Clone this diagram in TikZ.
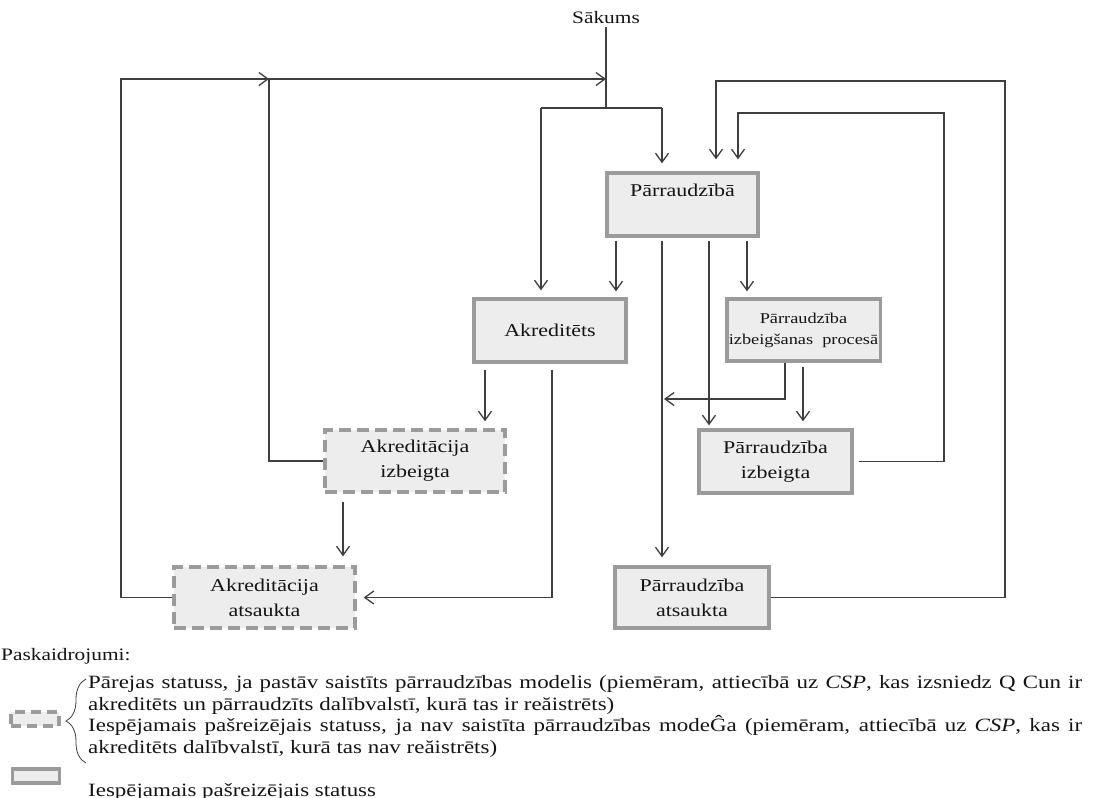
\documentclass[tikz,border=0pt]{standalone}
\usepackage{fontspec}
\setmainfont{Liberation Serif}[FakeStretch=1.22]
\usetikzlibrary{arrows.meta,decorations.pathreplacing}
\definecolor{lc}{RGB}{62,62,62}
\definecolor{bc}{RGB}{155,155,155}
\definecolor{bf}{RGB}{237,237,237}
\definecolor{tc}{RGB}{20,20,20}
\begin{document}
\begin{tikzpicture}[x=1pt,y=-1pt,
  box/.style={draw=bc, line width=3.4pt, fill=bf, inner sep=2pt, align=center,
    text=tc, font=\fontsize{18}{25}\selectfont},
  dbox/.style={box, dash pattern=on 12pt off 6pt},
  conn/.style={draw=lc, line width=1.3pt},
  arr/.style={conn, -{Straight Barb[length=9pt,width=13pt]}},
  lbl/.style={text=tc, inner sep=0pt, font=\fontsize{17.5}{25}\selectfont},
  legtext/.style={anchor=base west, text=tc, inner sep=0pt, font=\fontsize{18.8}{22}\selectfont}
]
\useasboundingbox (0,0) rectangle (1093,798);

% boxes
\node[box, minimum width=151pt, minimum height=63pt, text height=12pt, text depth=29pt] (P) at (682.5,204.5) {Pārraudzībā};
\node[box, minimum width=152pt, minimum height=63pt] (A) at (550,330.5) {Akreditēts};
\node[box, minimum width=153pt, minimum height=62pt, font=\fontsize{15}{21}\selectfont] (PIP) at (803.5,330) {Pārraudzība\\izbeigšanas\ \ procesā};
\node[dbox, minimum width=180pt, minimum height=62pt] (AI) at (415,461) {Akreditācija\\izbeigta};
\node[box, minimum width=153pt, minimum height=63pt] (PI) at (775.5,461.5) {Pārraudzība\\izbeigta};
\node[dbox, minimum width=181pt, minimum height=61pt] (AA) at (264.5,597.5) {Akreditācija\\atsaukta};
\node[box, minimum width=154pt, minimum height=61pt] (PA) at (692,597.5) {Pārraudzība\\atsaukta};

% start
\node[lbl] (S) at (606,18) {Sākums};
\coordinate (top) at (606,108);
\coordinate (sl) at (541,108);
\coordinate (sr) at (662,108);
\coordinate (t0) at (121,79);
\coordinate (t1) at (269,79);
\coordinate (t2) at (606,79);
\coordinate (il1) at (944,113);
\coordinate (il2) at (738,113);
\coordinate (ol1) at (1005,81);
\coordinate (ol2) at (716,81);
\coordinate (x616) at (616,0);
\coordinate (x709) at (709,0);
\coordinate (x747) at (747,0);
\coordinate (x785) at (785,0);
\coordinate (x803) at (803,0);
\coordinate (x485) at (485,0);
\coordinate (x552) at (552,0);
\coordinate (x343) at (343,0);
\coordinate (j) at (664,399);

\draw[conn, shorten <=3pt] (S.south) -- (top);
\draw[conn] (sl) -- (sr);
\draw[arr, shorten >=8pt] (sr) -- (sr |- P.north);
\draw[arr, shorten >=7pt] (sl) -- (sl |- A.north);

% from Parraudziba
\draw[arr, shorten <=3pt, shorten >=6pt] (x616 |- P.south) -- (x616 |- A.north);
\draw[arr, shorten <=3pt, shorten >=8pt] (sr |- P.south) -- (sr |- PA.north);
\draw[arr, shorten <=3pt, shorten >=3pt] (x709 |- P.south) -- (x709 |- PI.north);
\draw[arr, shorten <=3pt, shorten >=6pt] (x747 |- P.south) -- (x747 |- PIP.north);

% from izbeigsanas procesa
\draw[arr] (x785 |- PIP.south) |- (j);
\draw[arr, shorten <=4pt, shorten >=7pt] (x803 |- PIP.south) -- (x803 |- PI.north);

% loops back
\draw[arr, shorten <=5pt, shorten >=12pt] (PI.east) -- (PI.east -| il1) -- (il1) -- (il2) -- (il2 |- P.north);
\draw[arr, shorten >=12pt] (PA.east) -- (PA.east -| ol1) -- (ol1) -- (ol2) -- (ol2 |- P.north);

% from Akreditets
\draw[arr, shorten <=6pt, shorten >=7pt] (x485 |- A.south) -- (x485 |- AI.north);
\draw[arr, shorten <=6pt, shorten >=7pt] (x552 |- A.south) |- (AA.east);
\draw[arr, shorten <=8pt, shorten >=9pt] (x343 |- AI.south) -- (x343 |- AA.north);

% left loops
\draw[arr] (AI.west) -| (t1) -- (t2);
\draw[arr] (AA.west) -| (t0) -- (t1);

% legend
\node[legtext, font=\fontsize{17.5}{22}\selectfont] (L0) at (1,660) {Paskaidrojumi:};
\node[dbox, minimum width=48pt, minimum height=14pt, inner sep=0pt, dash pattern=on 10pt off 6pt] (Ld) at (35,719) {};
\node[box, minimum width=47pt, minimum height=14pt, inner sep=0pt] (Ls) at (36,776) {};
\draw[draw=lc, line width=0.8pt, decorate, decoration={brace, amplitude=20pt}] (86,763) -- (86,679);
\node[legtext] (L1) at (88,688) {\makebox[994pt][s]{Pārejas statuss, ja pastāv saistīts pārraudzības modelis (piemēram, attiecībā uz \textit{CSP}, kas izsniedz Q Cun ir}};
\node[legtext] (L2) at (88,710) {akreditēts un pārraudzīts dalībvalstī, kurā tas ir reăistrēts)};
\node[legtext] (L3) at (88,731) {\makebox[994pt][s]{Iespējamais pašreizējais statuss, ja nav saistīta pārraudzības modeĜa (piemēram, attiecībā uz \textit{CSP}, kas ir}};
\node[legtext] (L4) at (88,753) {akreditēts dalībvalstī, kurā tas nav reăistrēts)};
\node[legtext] (L5) at (88,796) {Iespējamais pašreizējais statuss};
\end{tikzpicture}
\end{document}
